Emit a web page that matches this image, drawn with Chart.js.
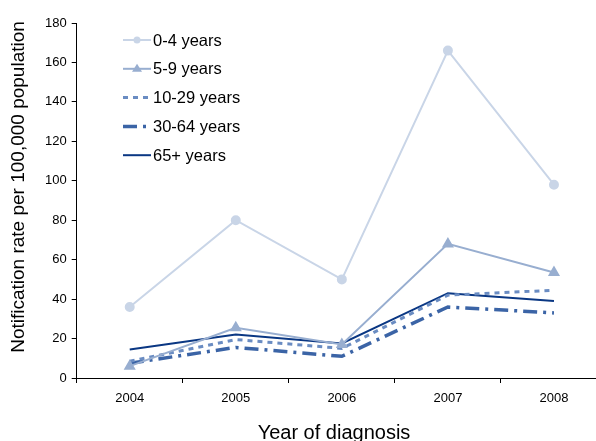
<!DOCTYPE html>
<html>
<head>
<meta charset="utf-8">
<script src="https://cdn.jsdelivr.net/npm/chart.js@4"></script>
<style>
  html, body { margin: 0; background: #fff; overflow: hidden; }
  canvas { display: block; }
</style>
</head>
<body>
<!-- the original's x axis runs past the right edge, so the canvas is a bit wider than the window -->
<canvas id="chart" width="614" height="441"></canvas>
<script>
const years = ["2004", "2005", "2006", "2007", "2008"];
const age0to4 = [36, 80, 50, 166, 98];
const age5to9 = [6, 25.5, 17, 68, 53.5];
const age10to29 = [8.5, 19.5, 15, 42, 44.5];
const age30to64 = [7.5, 15.5, 11, 36, 33];
const age65plus = [14.5, 22, 17.5, 43, 39];

const FONT = "'Liberation Sans', Arial, sans-serif";
const xTitle = "Year of diagnosis";
const yTitle = "Notification rate per 100,000 population";

// legend drawn by hand so it looks like the original
const legendPlugin = {
  id: "handLegend",
  afterDraw(chart) {
    const ctx = chart.ctx;
    const x0 = 123, x1 = 151;
    let y = 40;
    chart.data.datasets.forEach((ds) => {
      ctx.save();
      ctx.strokeStyle = ds.borderColor;
      ctx.lineWidth = ds.borderWidth;
      ctx.setLineDash(ds.borderDash || []);
      ctx.beginPath();
      ctx.moveTo(x0, y);
      ctx.lineTo(x1, y);
      ctx.stroke();
      ctx.setLineDash([]);
      const cx = (x0 + x1) / 2;
      ctx.fillStyle = ds.borderColor;
      if (ds.pointStyle === "circle") {
        ctx.beginPath();
        ctx.arc(cx, y, 3.5, 0, Math.PI * 2);
        ctx.fill();
      } else if (ds.pointStyle === "triangle") {
        ctx.beginPath();
        ctx.moveTo(cx, y - 5);
        ctx.lineTo(cx + 5, y + 3);
        ctx.lineTo(cx - 5, y + 3);
        ctx.closePath();
        ctx.fill();
      }
      ctx.fillStyle = "#000";
      ctx.font = "16.5px " + FONT;
      ctx.textBaseline = "middle";
      ctx.fillText(ds.label, 153, y + 1);
      ctx.restore();
      y += 28.8;
    });
  },
};

// axis titles are not centred on the axes in the original, so draw them here
const titlesPlugin = {
  id: "axisTitles",
  afterDraw(chart) {
    const ctx = chart.ctx;
    ctx.save();
    ctx.fillStyle = "#000";
    ctx.textAlign = "center";
    ctx.textBaseline = "middle";
    ctx.font = "20px " + FONT;
    ctx.fillText(xTitle, 334, 433);
    ctx.translate(19, 187);
    ctx.rotate(-Math.PI / 2);
    ctx.font = "19px " + FONT;
    ctx.fillText(yTitle, 0, 0);
    ctx.restore();
  },
};

const config = {
  type: "line",
  data: {
    labels: years,
    datasets: [
      {
        label: "0-4 years",
        data: age0to4,
        borderColor: "#c9d5e7",
        backgroundColor: "#c9d5e7",
        borderWidth: 2,
        pointStyle: "circle",
        pointRadius: 4,
      },
      {
        label: "5-9 years",
        data: age5to9,
        borderColor: "#98aed0",
        backgroundColor: "#98aed0",
        borderWidth: 2,
        pointStyle: "triangle",
        pointRadius: 5,
      },
      {
        label: "10-29 years",
        data: age10to29,
        borderColor: "#6a8cc2",
        borderWidth: 3,
        borderDash: [5, 5],
        pointRadius: 0,
      },
      {
        label: "30-64 years",
        data: age30to64,
        borderColor: "#3b64a6",
        borderWidth: 3.5,
        borderDash: [14, 6, 3, 6],
        pointRadius: 0,
      },
      {
        label: "65+ years",
        data: age65plus,
        borderColor: "#0a3783",
        borderWidth: 2,
        pointRadius: 0,
      },
    ],
  },
  options: {
    responsive: false,
    animation: false,
    events: [],
    layout: {
      padding: { left: 40, right: 0, top: 23, bottom: 26.4 },
    },
    plugins: {
      legend: { display: false },
      tooltip: { enabled: false },
    },
    scales: {
      x: {
        offset: true,
        border: { color: "#000", width: 1 },
        grid: {
          offset: true,
          drawOnChartArea: false,
          drawTicks: true,
          tickLength: 5,
          color: "#000",
        },
        ticks: {
          color: "#000",
          padding: 8,
          font: { family: FONT, size: 13 },
        },
      },
      y: {
        min: 0,
        max: 180,
        border: { color: "#000", width: 1 },
        grid: {
          drawOnChartArea: false,
          drawTicks: true,
          tickLength: 5,
          color: "#000",
        },
        ticks: {
          stepSize: 20,
          color: "#000",
          padding: 5,
          font: { family: FONT, size: 13 },
        },
      },
    },
  },
  plugins: [legendPlugin, titlesPlugin],
};

new Chart(document.getElementById("chart"), config);
</script>
</body>
</html>
